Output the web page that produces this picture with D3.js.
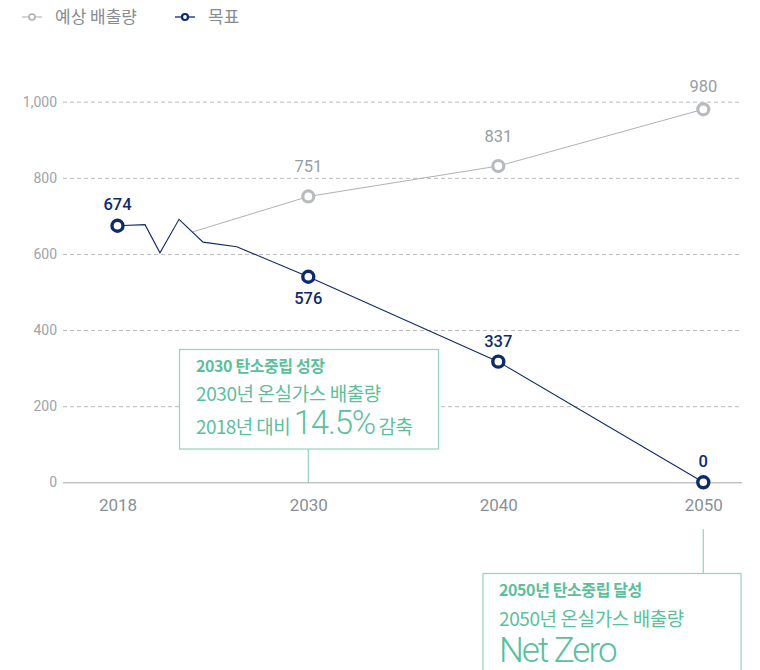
<!DOCTYPE html>
<html><head><meta charset="utf-8">
<script src="https://cdn.jsdelivr.net/npm/d3@7"></script>
<style>body{margin:0;background:#fff}</style></head>
<body><svg id="c" width="760" height="670"></svg>
<script>
// ---- data ----
const years = [2018, 2030, 2040, 2050];
const yTicks = [0, 200, 400, 600, 800, 1000];
const legendLabels = ["예상 배출량", "목표"];
// forecast (예상 배출량)
const forecastYears = [2022.73, 2030, 2040, 2050];
const forecastValues = [658, 751, 831, 980];
const forecastMarkerYears = [2030, 2040, 2050];
const forecastMarkerValues = [751, 831, 980];
const forecastLabels = ["751", "831", "980"];
// target (목표)
const targetYears = [2018, 2019.73, 2020.67, 2021.87, 2023.38, 2025.5, 2030, 2040, 2050];
const targetValues = [674, 677, 603, 691, 631, 619, 540, 317, 0];
const targetMarkerYears = [2018, 2030, 2040, 2050];
const targetMarkerValues = [674, 540, 317, 0];
const targetLabels = ["674", "576", "337", "0"];
// annotations
const note1 = ["2030 탄소중립 성장", "2030년 온실가스 배출량", "2018년 대비 ", "14.5%", " 감축"];
const note2 = ["2050년 탄소중립 달성", "2050년 온실가스 배출량", "Net Zero"];

// ---- styles ----
const NAVY = "#0f2a6c", GRAY = "#b7bbc1", MINT = "#5cbf9c", MINTLINE = "#93d4bf";
const KR = "'Noto Sans CJK KR','Noto Sans',sans-serif";
const NUM = "Roboto,'Noto Sans',sans-serif";

const svg = d3.select("#c");
const x = d3.scaleLinear().domain(years).range([117.5, 308.3, 498.3, 703.3]);
const y = d3.scaleLinear().domain([0, 1000]).range([482.3, 101.7]);
const plotL = 63, plotR = 742;

// grid
const yAxis = d3.axisLeft(y).tickValues(yTicks).tickSize(0).tickPadding(0)
  .tickFormat(d3.format(","));
const ga = svg.append("g").attr("transform", `translate(${plotL},0)`).call(yAxis);
ga.select(".domain").remove();
ga.selectAll("text").attr("x", -6).attr("fill", "#9ea3a9").style("font-family", NUM).style("font-size", "14px");
ga.selectAll(".tick").append("line")
  .attr("x1", 0).attr("x2", plotR - plotL)
  .attr("stroke", d => d === 0 ? "#a3a7ac" : "#b9bbbe")
  .attr("stroke-dasharray", d => d === 0 ? null : "4,3")
  .attr("stroke-width", 1);

// x axis labels
const xAxis = d3.axisBottom(x).tickValues(years).tickFormat(d3.format("d")).tickSize(0).tickPadding(0);
const gx = svg.append("g").attr("transform", `translate(0,${y(0)})`).call(xAxis);
gx.select(".domain").remove();
gx.selectAll("text").attr("y", 17).attr("fill", "#8a9096").style("font-family", NUM).style("font-size", "17px");

// annotation connectors
svg.append("line").attr("x1", x(2030)).attr("x2", x(2030)).attr("y1", 449).attr("y2", y(0))
  .attr("stroke", MINTLINE).attr("stroke-width", 1.2);
svg.append("line").attr("x1", x(2050)).attr("x2", x(2050)).attr("y1", 529).attr("y2", 573)
  .attr("stroke", MINTLINE).attr("stroke-width", 1.2);

// lines
const line = d3.line().x(d => x(d[0])).y(d => y(d[1]));
svg.append("path").datum(d3.zip(forecastYears, forecastValues)).attr("d", line)
  .attr("fill", "none").attr("stroke", "#aeb2b8").attr("stroke-width", 1);
svg.append("path").datum(d3.zip(targetYears, targetValues)).attr("d", line)
  .attr("fill", "none").attr("stroke", NAVY).attr("stroke-width", 1.1);

// markers
svg.selectAll(".fm").data(d3.zip(forecastMarkerYears, forecastMarkerValues)).join("circle")
  .attr("cx", d => x(d[0])).attr("cy", d => y(d[1])).attr("r", 5.5)
  .attr("fill", "#fff").attr("stroke", GRAY).attr("stroke-width", 3.2);
svg.selectAll(".tm").data(d3.zip(targetMarkerYears, targetMarkerValues)).join("circle")
  .attr("cx", d => x(d[0])).attr("cy", d => y(d[1])).attr("r", 5.5)
  .attr("fill", "#fff").attr("stroke", NAVY).attr("stroke-width", 3.4);

// value labels
const fOff = [-30, -30, -23];
svg.selectAll(".fl").data(forecastLabels).join("text")
  .attr("x", (d, i) => x(forecastMarkerYears[i]))
  .attr("y", (d, i) => y(forecastMarkerValues[i]) + fOff[i])
  .attr("dy", "0.35em").attr("text-anchor", "middle")
  .attr("fill", "#979da4").style("font-family", NUM).style("font-size", "16.5px").text(d => d);
const tOff = [-22, 21, -20, -21];
svg.selectAll(".tl").data(targetLabels).join("text")
  .attr("x", (d, i) => x(targetMarkerYears[i]))
  .attr("y", (d, i) => y(targetMarkerValues[i]) + tOff[i])
  .attr("dy", "0.35em").attr("text-anchor", "middle")
  .attr("fill", NAVY).style("font-family", NUM).style("font-weight", 500).style("font-size", "16.5px").text(d => d);

// legend
const leg = svg.append("g");
const legItems = [{c: "#a9aeb4", sw: 1.5, tx: 22}, {c: NAVY, sw: 2.2, tx: 175}];
legItems.forEach((it, i) => {
  const g = leg.append("g").attr("transform", `translate(${it.tx},17)`);
  g.append("line").attr("x1", 0).attr("x2", 20).attr("stroke", it.c).attr("stroke-width", i ? 1.3 : 1);
  g.append("circle").attr("cx", 10).attr("r", 3).attr("fill", "#fff").attr("stroke", it.c).attr("stroke-width", it.sw);
  g.append("text").attr("x", 33).attr("dy", "0.35em").attr("fill", "#868c93")
    .style("font-family", KR).style("font-size", "17px").text(legendLabels[i]);
});

// annotation box 1
svg.append("rect").attr("x", 179.5).attr("y", 349.5).attr("width", 259).attr("height", 99.5)
  .attr("fill", "#fff").attr("stroke", MINTLINE).attr("stroke-width", 1.2);
svg.append("text").attr("x", 196).attr("y", 372).attr("fill", MINT)
  .style("font-family", KR).style("font-weight", 700).style("font-size", "16px").style("letter-spacing", "-0.4px").text(note1[0]);
svg.append("text").attr("x", 196).attr("y", 401).attr("fill", MINT)
  .style("font-family", KR).style("font-size", "19px").style("letter-spacing", "-0.4px").text(note1[1]);
const t3 = svg.append("text").attr("x", 196).attr("y", 434).attr("fill", MINT)
  .style("font-family", KR).style("font-size", "19px").style("letter-spacing", "-0.6px");
t3.append("tspan").text(note1[2]);
t3.append("tspan").style("font-family", NUM).style("font-weight", 300).style("font-size", "33px").style("letter-spacing", "-1.2px").text(note1[3]);
t3.append("tspan").text(note1[4]);

// annotation box 2
svg.append("rect").attr("x", 483).attr("y", 573.5).attr("width", 258).attr("height", 120)
  .attr("fill", "#fff").attr("stroke", MINTLINE).attr("stroke-width", 1.2);
svg.append("text").attr("x", 499).attr("y", 596).attr("fill", MINT)
  .style("font-family", KR).style("font-weight", 700).style("font-size", "16px").style("letter-spacing", "-0.4px").text(note2[0]);
svg.append("text").attr("x", 499).attr("y", 626).attr("fill", MINT)
  .style("font-family", KR).style("font-size", "19px").style("letter-spacing", "-0.4px").text(note2[1]);
svg.append("text").attr("x", 499).attr("y", 662).attr("fill", MINT)
  .style("font-family", NUM).style("font-weight", 300).style("font-size", "35px").style("letter-spacing", "-2px").text(note2[2]);
</script></body></html>
